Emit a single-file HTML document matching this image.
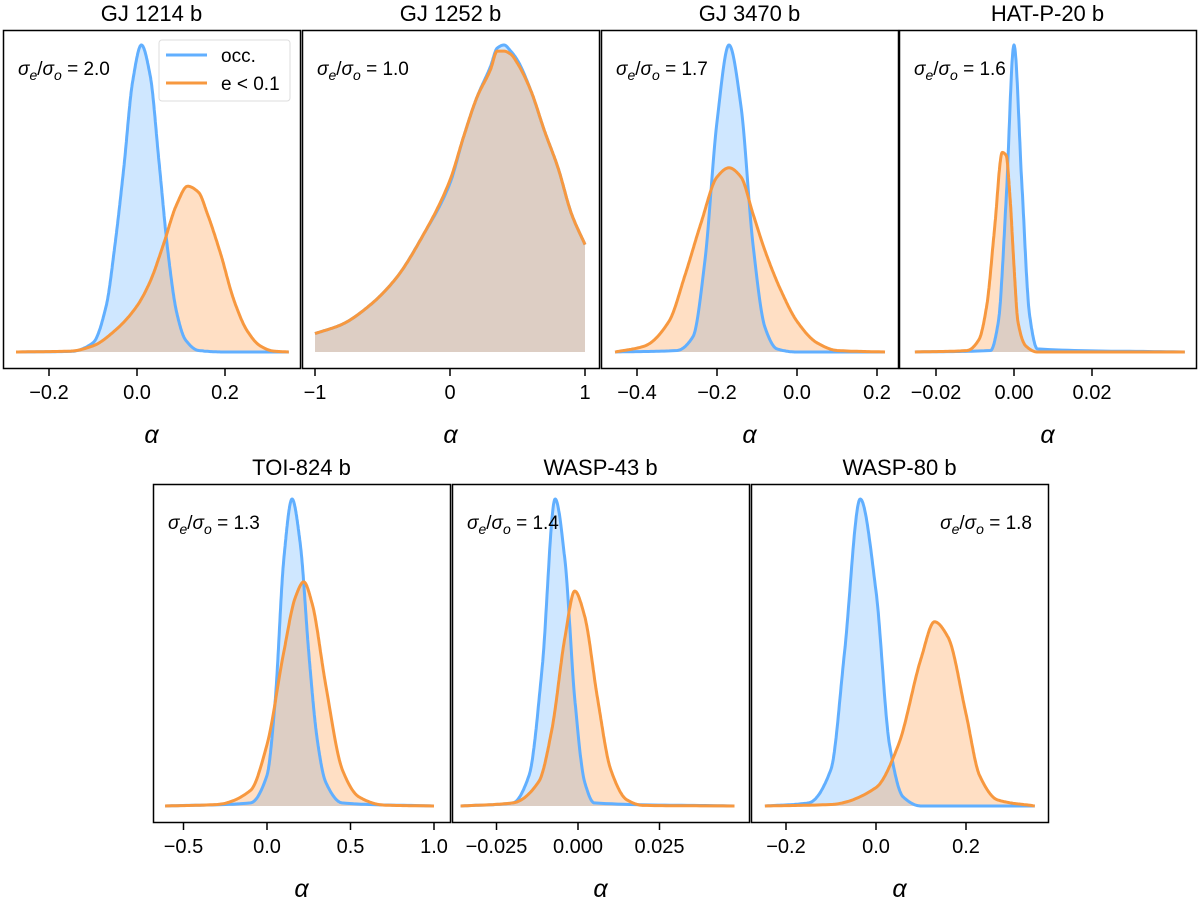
<!DOCTYPE html>
<html><head><meta charset="utf-8">
<style>
body{margin:0;background:#fff;}
svg text{font-family:"Liberation Sans","DejaVu Sans",sans-serif;fill:#000;}
</style></head>
<body>
<svg id="fig" width="1200" height="904" xmlns="http://www.w3.org/2000/svg"></svg>
<script>
// ---- data ----
const titles=["GJ 1214 b","GJ 1252 b","GJ 3470 b","HAT-P-20 b","TOI-824 b","WASP-43 b","WASP-80 b"];
const ratios=["2.0","1.0","1.7","1.6","1.3","1.4","1.8"];
const ticks=[[-0.2,0,0.2],[-1,0,1],[-0.4,-0.2,0,0.2],[-0.02,0,0.02],[-0.5,0,0.5,1],[-0.025,0,0.025],[-0.2,0,0.2]];
const tickLabels=[["−0.2","0.0","0.2"],["−1","0","1"],["−0.4","−0.2","0.0","0.2"],["−0.02","0.00","0.02"],["−0.5","0.0","0.5","1.0"],["−0.025","0.000","0.025"],["−0.2","0.0","0.2"]];
const occX=[
[-0.275,-0.15,-0.1,-0.07,-0.05,-0.03,-0.01,0.01,0.03,0.05,0.07,0.09,0.11,0.14,0.2,0.345],
[-1,-0.8,-0.6,-0.4,-0.2,0,0.1,0.2,0.3,0.35,0.4,0.45,0.5,0.6,0.7,0.8,0.9,1],
[-0.455,-0.3,-0.26,-0.23,-0.2,-0.17,-0.14,-0.11,-0.08,-0.05,0,0.22],
[-0.0254,-0.006,-0.004,-0.002,0,0.002,0.004,0.006,0.0438],
[-0.61,-0.1,0,0.05,0.1,0.15,0.2,0.25,0.3,0.35,0.45,1],
[-0.036,-0.02,-0.015,-0.011,-0.007,-0.004,-0.001,0.002,0.005,0.048],
[-0.247,-0.15,-0.1,-0.07,-0.035,0,0.03,0.06,0.1,0.353]];
const occY=[
[0,0.002,0.03,0.15,0.35,0.6,0.88,1,0.9,0.62,0.33,0.13,0.04,0.005,0,0],
[0.06,0.09,0.15,0.24,0.38,0.55,0.7,0.83,0.93,0.99,1,0.98,0.95,0.85,0.72,0.6,0.45,0.35],
[0,0.005,0.05,0.3,0.75,1,0.8,0.35,0.08,0.01,0,0],
[0,0.005,0.1,0.5,1,0.55,0.12,0.01,0],
[0,0.01,0.1,0.35,0.8,1,0.85,0.5,0.22,0.08,0.01,0],
[0,0.01,0.1,0.45,1,0.8,0.35,0.08,0.01,0],
[0,0.01,0.12,0.5,1,0.7,0.2,0.03,0,0]];
const eccX=[
[-0.275,-0.15,-0.1,-0.05,0,0.03,0.06,0.09,0.115,0.14,0.16,0.19,0.22,0.25,0.28,0.31,0.345],
[-1,-0.8,-0.6,-0.4,-0.2,0,0.1,0.2,0.3,0.35,0.4,0.45,0.5,0.6,0.7,0.8,0.9,1],
[-0.455,-0.38,-0.32,-0.28,-0.24,-0.2,-0.17,-0.14,-0.11,-0.08,-0.04,0,0.05,0.1,0.22],
[-0.0254,-0.012,-0.009,-0.007,-0.005,-0.003,-0.002,-0.001,0,0.001,0.003,0.006,0.0438],
[-0.61,-0.3,-0.1,0,0.1,0.17,0.22,0.27,0.35,0.45,0.55,0.7,1],
[-0.036,-0.02,-0.012,-0.008,-0.004,-0.001,0.002,0.006,0.01,0.015,0.02,0.048],
[-0.247,-0.1,0,0.05,0.1,0.13,0.16,0.2,0.23,0.27,0.353]];
const eccY=[
[0,0.003,0.02,0.07,0.15,0.23,0.35,0.48,0.54,0.52,0.45,0.32,0.17,0.07,0.02,0.003,0],
[0.06,0.09,0.15,0.24,0.38,0.56,0.7,0.83,0.92,0.98,0.98,0.97,0.94,0.85,0.72,0.6,0.45,0.35],
[0,0.02,0.1,0.25,0.42,0.57,0.6,0.57,0.45,0.33,0.2,0.1,0.03,0.005,0],
[0,0.005,0.04,0.15,0.4,0.65,0.64,0.5,0.28,0.1,0.02,0,0],
[0,0.005,0.05,0.2,0.5,0.68,0.73,0.66,0.4,0.12,0.03,0.003,0],
[0,0.01,0.08,0.25,0.55,0.7,0.62,0.35,0.12,0.02,0.002,0],
[0,0.005,0.06,0.2,0.48,0.6,0.55,0.3,0.1,0.02,0]];
// ---- layout ----
const boxes=[[3,30],[302,30],[601,30],[899,30],[153,484],[452,484],[751,484]];
const W=297,H=338;
const xc=[137,450,797,1014,267,578,876];
const xs=[440,135,400,3900,167,3260,450];
const annoRight=[false,false,false,false,false,false,true];
const NS="http://www.w3.org/2000/svg";
const svg=document.getElementById('fig');
function mk(tag,attrs,parent){const e=document.createElementNS(NS,tag);for(const k in attrs)e.setAttribute(k,attrs[k]);(parent||svg).appendChild(e);return e;}
// monotone cubic (Fritsch-Carlson) interpolation, sampled finely
function monotone(xa,ya){
  const n=xa.length,d=[],m=[];
  for(let i=0;i<n-1;i++)d.push((ya[i+1]-ya[i])/(xa[i+1]-xa[i]));
  m[0]=d[0];m[n-1]=d[n-2];
  for(let i=1;i<n-1;i++){ if(d[i-1]*d[i]<=0)m[i]=0; else { const h0=xa[i]-xa[i-1],h1=xa[i+1]-xa[i]; const w1=2*h1+h0,w2=h1+2*h0; m[i]=(w1+w2)/(w1/d[i-1]+w2/d[i]); } }
  const out=[];
  for(let i=0;i<n-1;i++){const h=xa[i+1]-xa[i];const S=24;
    for(let s=0;s<S;s++){const t=s/S,t2=t*t,t3=t2*t;
      const y=(2*t3-3*t2+1)*ya[i]+(t3-2*t2+t)*h*m[i]+(-2*t3+3*t2)*ya[i+1]+(t3-t2)*h*m[i+1];
      out.push([xa[i]+t*h,y]);}}
  out.push([xa[n-1],ya[n-1]]);return out;
}
for(let i=0;i<7;i++){
  const [bx,by]=boxes[i];
  const base=by+H-16, hgt=base-(by+15);
  const X=v=>xc[i]+xs[i]*v, Y=v=>base-hgt*v;
  const g=mk('g',{});
  
  
  const t=mk('text',{x:bx+W/2,y:by-9,'text-anchor':'middle','font-size':22},g);t.textContent=titles[i];
  
  const series=[[occX[i],occY[i],'rgba(97,175,255,0.3)','#61afff','occ-curve'],[eccX[i],eccY[i],'rgba(255,150,60,0.3)','#f7983f','ecc-curve']];
  const lines=[];
  for(const [xa,ya,fill,stroke,nm] of series){
    const pts=monotone(xa,ya).map(p=>[X(p[0]),Y(p[1])]);
    const d="M"+pts.map(p=>p[0].toFixed(1)+","+p[1].toFixed(1)).join(" L");
    const f=mk('path',{d:d+` L${pts[pts.length-1][0]},${base} L${pts[0][0]},${base} Z`,fill:fill,stroke:'none'},g);
    
    lines.push([d,stroke,nm]);
  }
  for(const [d,stroke,nm] of lines){
    const l=mk('path',{d:d,fill:'none',stroke:stroke,'stroke-width':3,'stroke-linejoin':'round'},g);
    
  }
  const r=mk('rect',{x:bx+0.5,y:by+0.5,width:W,height:H,fill:'none',stroke:'#000','stroke-width':1.5},g);
  
  ticks[i].forEach((v,k)=>{
    mk('line',{x1:X(v),x2:X(v),y1:by+H,y2:by+H+8,stroke:'#000','stroke-width':1.5},g);
    const tl=mk('text',{x:X(v),y:by+H+31,'text-anchor':'middle','font-size':20},g);tl.textContent=tickLabels[i][k];
    
  });
  const xl=mk('text',{x:bx+W/2,y:by+H+75,'text-anchor':'middle','font-size':25,'font-style':'italic'},g);xl.textContent='α';
  
  const an=mk('text',{x:annoRight[i]?bx+W-16:bx+15,y:by+45,'text-anchor':annoRight[i]?'end':'start','font-size':19},g);
  an.innerHTML='<tspan font-style="italic">σ</tspan><tspan font-style="italic" font-size="14" dy="5">e</tspan><tspan dy="-5">/</tspan><tspan font-style="italic">σ</tspan><tspan font-style="italic" font-size="14" dy="5">o</tspan><tspan dy="-5"> = '+ratios[i]+'</tspan>';
  
}
// legend
const lg=mk('g',{});


mk('rect',{x:159,y:40,width:131,height:61,rx:3,fill:'#fff','fill-opacity':0.85,stroke:'#ddd'},lg);
mk('line',{x1:166,x2:207,y1:55,y2:55,stroke:'#61afff','stroke-width':3},lg);
mk('line',{x1:166,x2:207,y1:83,y2:83,stroke:'#f7983f','stroke-width':3},lg);
const l1=mk('text',{x:221,y:62,'font-size':19},lg);l1.textContent='occ.';

const l2=mk('text',{x:221,y:90,'font-size':19},lg);l2.textContent='e < 0.1';

</script>
</body></html>
